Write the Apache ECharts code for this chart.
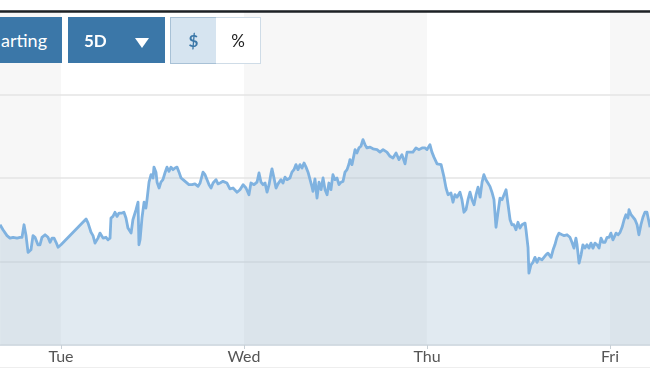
<!DOCTYPE html>
<html>
<head>
<meta charset="utf-8">
<script src="https://cdn.jsdelivr.net/npm/echarts@6/dist/echarts.min.js"></script>
<style>
  html, body { margin: 0; padding: 0; background: #fff; }
  #wrap { position: relative; width: 650px; height: 390px; overflow: hidden; font-family: Lato, "Open Sans", sans-serif; }
  #chart { position: absolute; left: 0; top: 0; width: 650px; height: 390px; }
  .btn { position: absolute; box-sizing: border-box; display: flex; align-items: center; }
  #b1 { left: 0; top: 17px; width: 62px; height: 46px; background: #3b77a8; color: #fff; font-size: 18px; justify-content: flex-end; padding-right: 15px; }
  #b2 { left: 68px; top: 17px; width: 97px; height: 46px; background: #3b77a8; color: #fff; font-size: 17px; font-weight: bold; padding-left: 16px; }
  #tri { position: absolute; left: 67px; top: 21px; width: 0; height: 0; border-left: 7.5px solid transparent; border-right: 7.5px solid transparent; border-top: 10px solid #fff; }
  #b3 { left: 170px; top: 17px; width: 47px; height: 47px; background: #d6e4f0; border: 1px solid #a8c1d6; color: #3b77a8; font-size: 17px; font-weight: bold; justify-content: center; }
  #b4 { left: 216px; top: 17px; width: 45px; height: 47px; background: #fff; border: 1px solid #cfdce7; border-left: none; color: #222; font-size: 17px; justify-content: center; }
  #bottomline { position: absolute; left: 0; top: 367px; width: 650px; height: 1px; background: #eeeeee; }
</style>
</head>
<body>
<div id="wrap">
  <div id="chart"></div>
  <div class="btn" id="b1">arting</div>
  <div class="btn" id="b2">5D<div id="tri"></div></div>
  <div class="btn" id="b3">$</div>
  <div class="btn" id="b4">%</div>
  <div id="bottomline"></div>
</div>
<script>
// time in days (Mon 00:00 = 0, Tue = 1, ...)
const times = [
  0.667,0.683,0.705,0.721,0.738,0.760,0.776,0.787,0.798,0.809,0.820,0.836,0.847,0.858,0.874,0.885,0.896,0.913,0.929,0.940,0.951,0.962,0.973,0.984,1.000,
  1.137,1.148,1.164,1.175,1.186,1.202,1.213,1.230,1.246,1.257,1.268,1.273,1.284,1.295,1.306,1.317,1.333,1.344,1.355,1.366,1.383,1.393,1.410,1.421,1.426,1.432,1.443,1.454,1.464,1.470,1.481,1.492,1.503,1.508,1.519,1.525,1.536,1.546,1.557,1.568,1.579,1.590,1.601,1.612,1.623,1.634,1.645,1.656,1.667,1.683,1.699,1.716,1.732,1.749,1.760,1.776,1.787,1.798,1.809,1.820,1.831,1.847,1.858,1.869,1.885,1.907,1.923,1.940,1.962,1.978,1.995,
  2.011,2.027,2.038,2.055,2.071,2.082,2.093,2.104,2.115,2.126,2.137,2.148,2.153,2.164,2.175,2.186,2.202,2.213,2.224,2.235,2.251,2.262,2.273,2.284,2.295,2.306,2.317,2.328,2.339,2.350,2.361,2.372,2.377,2.388,2.399,2.410,2.421,2.432,2.443,2.454,2.464,2.475,2.486,2.497,2.508,2.519,2.530,2.541,2.552,2.563,2.574,2.579,2.590,2.596,2.607,2.617,2.628,2.639,2.650,2.661,2.672,2.689,2.705,2.727,2.743,2.760,2.781,2.798,2.814,2.831,2.847,2.863,2.880,2.891,2.907,2.923,2.940,2.956,2.973,2.989,
  3.000,3.016,3.027,3.038,3.055,3.077,3.093,3.104,3.115,3.131,3.142,3.153,3.164,3.180,3.191,3.202,3.213,3.224,3.235,3.246,3.257,3.268,3.279,3.290,3.301,3.311,3.322,3.333,3.344,3.355,3.366,3.377,3.388,3.399,3.410,3.421,3.432,3.443,3.454,3.464,3.475,3.486,3.497,3.508,3.519,3.525,3.536,3.541,3.552,3.557,3.568,3.579,3.590,3.601,3.612,3.628,3.639,3.650,3.661,3.678,3.689,3.699,3.710,3.721,3.738,3.749,3.765,3.781,3.792,3.803,3.814,3.820,3.831,3.842,3.852,3.863,3.874,3.885,3.896,3.907,3.918,3.929,3.940,3.951,3.962,3.973,3.984,3.995,
  4.005,4.016,4.033,4.044,4.055,4.066,4.077,4.087,4.098,4.104,4.115,4.126,4.137,4.148,4.158,4.169,4.180,4.191,4.202,4.219
];
const prices = [
  147.44,147.38,147.31,147.28,147.29,147.28,147.29,147.29,147.44,147.31,147.11,147.14,147.31,147.29,147.20,147.20,147.29,147.32,147.29,147.23,147.28,147.28,147.23,147.17,147.20,
  147.51,147.46,147.35,147.31,147.22,147.28,147.34,147.28,147.29,147.26,147.28,147.52,147.54,147.59,147.54,147.58,147.58,147.59,147.52,147.40,147.34,147.50,147.62,147.71,147.20,147.26,147.53,147.71,147.64,147.74,147.95,148.04,148.00,148.13,148.07,147.95,147.88,147.95,147.98,148.06,148.13,148.08,148.13,148.10,148.12,148.13,148.07,148.00,147.98,147.95,147.92,147.92,147.93,147.90,147.94,148.07,148.04,147.98,147.92,147.88,147.94,147.98,147.93,147.94,147.96,147.94,147.87,147.88,147.83,147.86,147.92,
  147.88,147.80,147.94,147.92,147.95,148.06,147.95,147.92,147.94,147.83,147.92,148.06,148.11,148.00,147.88,147.93,147.98,147.94,148.01,147.98,148.00,148.07,148.10,148.16,148.10,148.16,148.12,148.18,148.13,148.07,147.98,147.89,147.84,147.99,147.76,147.95,147.86,148.00,147.86,147.80,147.94,147.86,148.04,147.98,148.00,147.92,147.95,147.96,148.07,148.10,148.17,148.22,148.16,148.18,148.34,148.30,148.36,148.38,148.46,148.40,148.36,148.37,148.35,148.34,148.31,148.34,148.31,148.26,148.24,148.30,148.22,148.28,148.17,148.31,148.31,148.31,148.36,148.34,148.36,148.36,
  148.34,148.40,148.31,148.25,148.17,148.16,148.01,147.88,147.80,147.82,147.71,147.80,147.77,147.83,147.74,147.59,147.62,147.74,147.83,147.74,147.68,147.80,147.89,147.77,147.95,148.04,147.98,147.94,147.90,147.83,147.74,147.41,147.59,147.76,147.74,147.80,147.86,147.68,147.50,147.44,147.44,147.38,147.47,147.40,147.44,147.44,147.46,147.38,147.17,146.86,146.96,146.99,147.05,146.99,147.04,147.02,147.05,147.08,147.10,147.05,147.14,147.20,147.29,147.34,147.32,147.31,147.32,147.29,147.23,147.16,147.28,147.20,146.98,147.08,147.20,147.16,147.20,147.16,147.22,147.16,147.22,147.20,147.16,147.28,147.23,147.23,147.29,147.29,
  147.34,147.26,147.34,147.32,147.35,147.41,147.50,147.56,147.52,147.62,147.56,147.53,147.50,147.44,147.32,147.44,147.53,147.59,147.59,147.41
];
const dayTicks = [1, 2, 3, 4];
const dayLabels = ['Tue', 'Wed', 'Thu', 'Fri'];
const shadedDays = [[0.6667, 1], [2, 3], [4, 4.2186]];
const xMin = 0.6667, xMax = 4.2186;

const chart = echarts.init(document.getElementById('chart'), null, { renderer: 'canvas' });
chart.setOption({
  animation: false,
  grid: { left: 0, right: 0, top: 11, bottom: 45 },
  xAxis: [
    {
      type: 'value', position: 'bottom', min: xMin, max: xMax, z: 4,
      axisLine: { show: true, lineStyle: { color: '#d5dde4', width: 1 } },
      axisTick: { show: true, customValues: dayTicks, length: 4, lineStyle: { color: '#c8d0d6' } },
      axisLabel: {
        customValues: dayTicks, margin: 4, color: '#555', fontSize: 16, fontFamily: 'Lato',
        formatter: v => dayLabels[dayTicks.indexOf(Math.round(v))] || ''
      },
      splitLine: { show: false }
    },
    {
      type: 'value', position: 'top', min: xMin, max: xMax, z: 5,
      axisLine: { show: true, onZero: false, lineStyle: { color: '#1d2125', width: 2.5 } },
      axisTick: { show: false }, axisLabel: { show: false }, splitLine: { show: false }
    }
  ],
  yAxis: {
    type: 'value', min: 146, max: 150, interval: 1, z: 2,
    axisLine: { show: false }, axisTick: { show: false }, axisLabel: { show: false },
    splitLine: { show: true, lineStyle: { color: '#e4e4e4', width: 1.5 } }
  },
  series: [
    {
      type: 'line', data: [], z: 1, silent: true,
      markArea: {
        silent: true, z: 1,
        itemStyle: { color: '#f7f7f7' },
        data: shadedDays.map(r => [{ xAxis: r[0] }, { xAxis: r[1] }])
      }
    },
    {
      type: 'line', z: 3,
      data: times.map((t, i) => [t, prices[i]]),
      showSymbol: false,
      lineStyle: { color: '#7fb2e0', width: 2.8, join: 'round' },
      areaStyle: { color: 'rgba(152,183,207,0.29)', opacity: 1 }
    }
  ]
});
</script>
</body>
</html>
